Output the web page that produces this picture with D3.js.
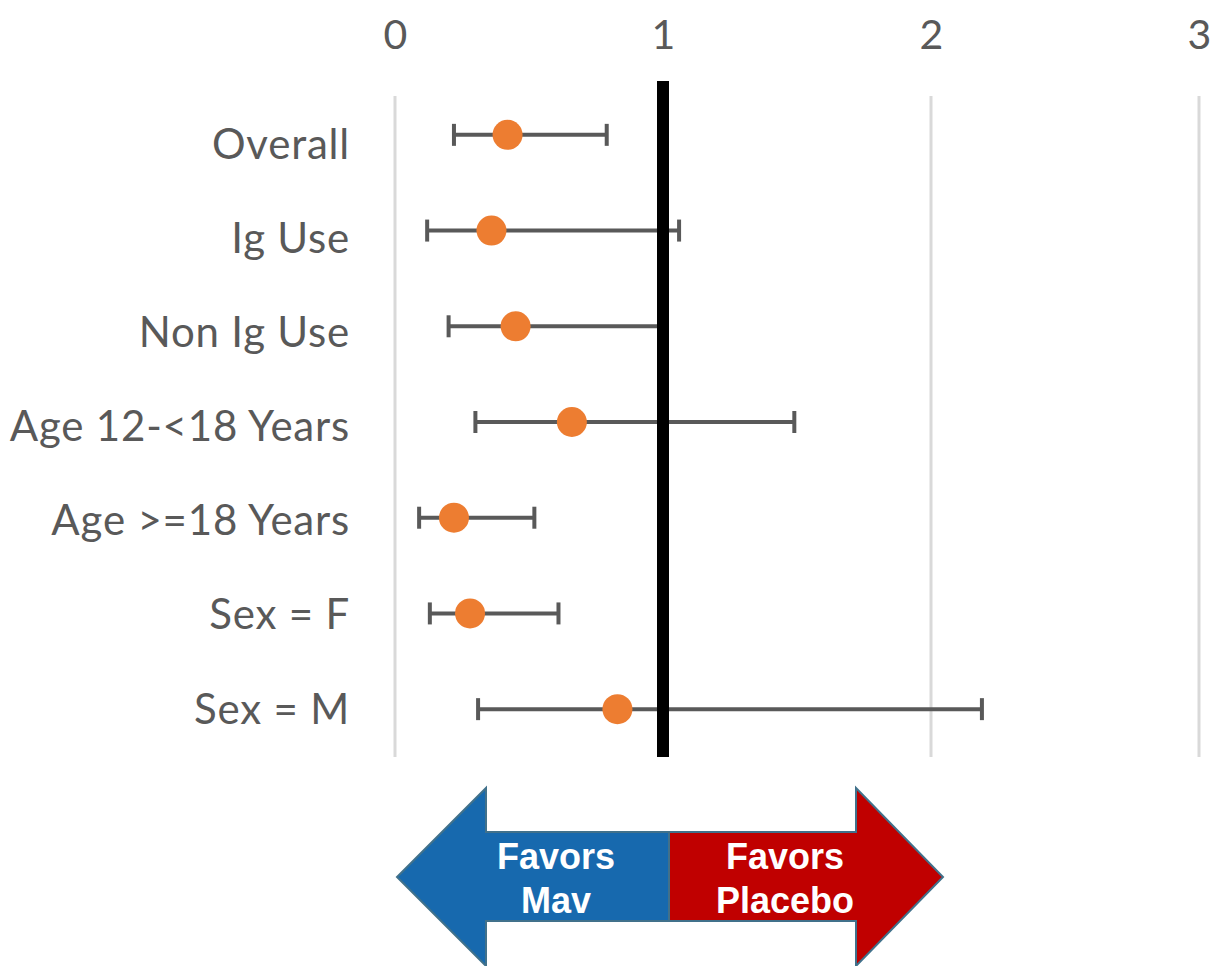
<!DOCTYPE html>
<html>
<head>
<meta charset="utf-8">
<script src="https://cdn.jsdelivr.net/npm/d3@7"></script>
<style>
  html, body { margin: 0; padding: 0; background: #fff; }
  svg { display: block; }
</style>
</head>
<body>
<svg id="chart" width="1230" height="966"></svg>
<script>
// Subgroup hazard ratios with 95% confidence intervals
const categories = ["Overall", "Ig Use", "Non Ig Use", "Age 12-<18 Years", "Age >=18 Years", "Sex = F", "Sex = M"];
const estimates  = [0.42, 0.36, 0.45, 0.66, 0.22, 0.28, 0.83];
const lowerCI    = [0.22, 0.12, 0.20, 0.30, 0.09, 0.13, 0.31];
const upperCI    = [0.79, 1.06, 0.99, 1.49, 0.52, 0.61, 2.19];
const xTicks     = [0, 1, 2, 3];
const refValue   = 1;

const svg = d3.select("#chart");

const x = d3.scaleLinear().domain([0, 3]).range([395, 1199]);
const y = d3.scaleBand().domain(categories).range([87, 757]).padding(0);
// label baselines sit slightly below the row centres
const yLabel = d3.scalePoint().domain(categories).range([158, 723]);

const textGray = "#595959";

// vertical gridlines
svg.append("g")
  .selectAll("line")
  .data(xTicks)
  .join("line")
  .attr("x1", d => x(d)).attr("x2", d => x(d))
  .attr("y1", 96).attr("y2", 757)
  .attr("stroke", "#d9d9d9")
  .attr("stroke-width", 3);

// top axis tick labels
const xAxis = d3.axisTop(x).tickValues(xTicks).tickSize(0).tickPadding(0).tickFormat(d3.format("d"));
const gx = svg.append("g").attr("transform", "translate(0,48.5)").call(xAxis);
gx.select(".domain").remove();
gx.selectAll("text")
  .attr("fill", textGray)
  .attr("font-family", "Lato, 'Open Sans', sans-serif")
  .attr("font-size", 41);

// category labels
const yAxis = d3.axisLeft(yLabel).tickSize(0).tickPadding(0);
const gy = svg.append("g").attr("transform", "translate(350,0)").call(yAxis);
gy.select(".domain").remove();
gy.selectAll("text")
  .attr("fill", textGray)
  .attr("font-family", "Lato, 'Open Sans', sans-serif")
  .attr("font-size", 42)
  .attr("letter-spacing", "0.8px")
  .attr("dy", 0);

const rows = categories.map((c, i) => ({ c, est: estimates[i], lo: lowerCI[i], hi: upperCI[i] }));
const cy = d => y(d.c) + y.bandwidth() / 2;

// error bars
const eb = svg.append("g").attr("stroke", "#595959").attr("stroke-width", 4);
eb.selectAll("line.ci")
  .data(rows).join("line").attr("class", "ci")
  .attr("x1", d => x(d.lo)).attr("x2", d => x(d.hi))
  .attr("y1", cy).attr("y2", cy);
eb.selectAll("line.capL")
  .data(rows).join("line").attr("class", "capL")
  .attr("x1", d => x(d.lo)).attr("x2", d => x(d.lo))
  .attr("y1", d => cy(d) - 11).attr("y2", d => cy(d) + 11);
eb.selectAll("line.capR")
  .data(rows).join("line").attr("class", "capR")
  .attr("x1", d => x(d.hi)).attr("x2", d => x(d.hi))
  .attr("y1", d => cy(d) - 11).attr("y2", d => cy(d) + 11);

// reference line at HR = 1
svg.append("line")
  .attr("x1", x(refValue)).attr("x2", x(refValue))
  .attr("y1", 81).attr("y2", 757)
  .attr("stroke", "#000")
  .attr("stroke-width", 12);

// point estimates
svg.append("g")
  .selectAll("circle")
  .data(rows).join("circle")
  .attr("cx", d => x(d.est))
  .attr("cy", cy)
  .attr("r", 15)
  .attr("fill", "#ED7D31");

// direction arrow under the chart, split at the reference line
const mid = x(refValue) + 6;
const tipL = 397, tipR = 943, notchL = 486, notchR = 856;
const headTop = 788, headBot = 966, shaftTop = 832, shaftBot = 921, arrowY = 877;

svg.append("path")
  .attr("d", `M${mid},${shaftTop} L${notchL},${shaftTop} L${notchL},${headTop} L${tipL},${arrowY} L${notchL},${headBot} L${notchL},${shaftBot} L${mid},${shaftBot} Z`)
  .attr("fill", "#1769AE")
  .attr("stroke", "#41718B")
  .attr("stroke-width", 2);
svg.append("path")
  .attr("d", `M${mid},${shaftTop} L${notchR},${shaftTop} L${notchR},${headTop} L${tipR},${arrowY} L${notchR},${headBot} L${notchR},${shaftBot} L${mid},${shaftBot} Z`)
  .attr("fill", "#C00000")
  .attr("stroke", "#41718B")
  .attr("stroke-width", 2);

const arrowText = [
  { lines: ["Favors", "Mav"], cx: 556 },
  { lines: ["Favors", "Placebo"], cx: 785 }
];
arrowText.forEach(t => {
  t.lines.forEach((s, i) => {
    svg.append("text")
      .attr("x", t.cx)
      .attr("y", 869 + i * 44)
      .attr("text-anchor", "middle")
      .attr("fill", "#fff")
      .attr("font-family", "'Liberation Sans', Arial, sans-serif")
      .attr("font-weight", "bold")
      .attr("font-size", 36)
      .text(s);
  });
});
</script>
</body>
</html>
